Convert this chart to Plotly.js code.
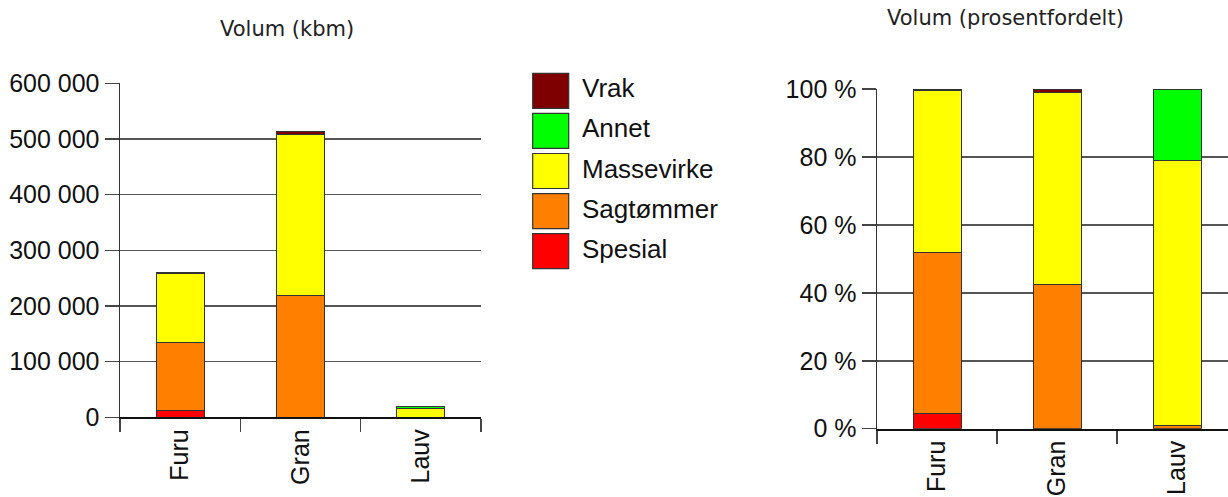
<!DOCTYPE html>
<html>
<head>
<meta charset="utf-8">
<script src="https://cdn.plot.ly/plotly-3.0.1.min.js"></script>
<style>
html,body{margin:0;padding:0;overflow:hidden;background:#fff;}
#chart{width:1228px;height:497px;}
</style>
</head>
<body>
<div id="chart"></div>
<script>
// ---- data ----
var categories = ['Furu', 'Gran', 'Lauv'];
var spesial    = [11700, 0, 0];
var sagtommer  = [123200, 218000, 200];
var massevirke = [123800, 290300, 14800];
var annet      = [0, 0, 4000];
var vrak       = [1300, 5800, 0];

var seriesNames  = ['Spesial', 'Sagtømmer', 'Massevirke', 'Annet', 'Vrak'];
var seriesValues = [spesial, sagtommer, massevirke, annet, vrak];
var seriesColors = ['#ff0000', '#ff8000', '#ffff00', '#00ff00', '#7f0000'];

var leftTitle  = 'Volum (kbm)';
var rightTitle = 'Volum (prosentfordelt)';

// ---- build ----
(function(){
var W = 1228, H = 497;
function px(x){ return x / W; }
function py(y){ return 1 - y / H; }

var totals = categories.map(function(_, i){
  return seriesValues.reduce(function(s, arr){ return s + arr[i]; }, 0);
});

var traces = [];
seriesNames.forEach(function(name, k){
  var vals = seriesValues[k];
  traces.push({
    type: 'bar', x: categories, y: vals, name: name,
    xaxis: 'x', yaxis: 'y', width: 0.4,
    marker: {color: seriesColors[k], line: {color: '#333', width: 1}},
    showlegend: false, hoverinfo: 'x+y+name'
  });
  traces.push({
    type: 'bar', x: categories,
    y: vals.map(function(v, i){ return totals[i] ? v / totals[i] * 100 : 0; }),
    name: name, xaxis: 'x2', yaxis: 'y2', width: 0.4,
    marker: {color: seriesColors[k], line: {color: '#333', width: 1}},
    showlegend: false, hoverinfo: 'x+y+name'
  });
});

var tickFont = {family: 'Liberation Sans, Arial, sans-serif', size: 25, color: '#111'};

var shapes = [], annotations = [];
// legend (top to bottom: reverse stacking order)
for (var j = seriesNames.length - 1, r = 0; j >= 0; j--, r++) {
  var yTop = 73.3 + 40.1 * r;
  shapes.push({type: 'rect', xref: 'paper', yref: 'paper',
    x0: px(532.7), x1: px(568.7), y0: py(yTop + 35), y1: py(yTop),
    fillcolor: seriesColors[j], line: {color: '#333', width: 1.2}});
  annotations.push({xref: 'paper', yref: 'paper', x: px(580), y: py(yTop + 15),
    xanchor: 'left', yanchor: 'middle', showarrow: false, text: seriesNames[j],
    font: {family: 'Liberation Sans, Arial, sans-serif', size: 26, color: '#111'}});
}
annotations.push({xref: 'paper', yref: 'paper', x: px(287), y: py(29),
  xanchor: 'center', yanchor: 'middle', showarrow: false, text: leftTitle,
  font: {family: 'DejaVu Sans, Verdana, sans-serif', size: 21, color: '#222'}});
annotations.push({xref: 'paper', yref: 'paper', x: px(1005), y: py(18),
  xanchor: 'center', yanchor: 'middle', showarrow: false, text: rightTitle,
  font: {family: 'DejaVu Sans, Verdana, sans-serif', size: 21, color: '#222'}});

var layout = {
  width: W, height: H,
  margin: {l: 0, r: 0, t: 0, b: 0, pad: 0},
  paper_bgcolor: '#fff', plot_bgcolor: '#fff',
  barmode: 'stack',
  separators: ', ',
  showlegend: false,
  xaxis: {
    domain: [px(120), px(481)], range: [-0.5, 2.5], type: 'category',
    tickson: 'boundaries', ticks: 'outside', ticklen: 13, tickwidth: 1.5, tickcolor: '#444',
    tickangle: -90, tickfont: tickFont, showgrid: false, zeroline: false,
    showline: true, linecolor: '#111', linewidth: 2, anchor: 'y', fixedrange: true
  },
  yaxis: {
    domain: [1 - 417.3 / H, 1 - 83.3 / H], range: [0, 600000], dtick: 100000,
    tickformat: ',d', ticks: 'outside', ticklen: 14, tickwidth: 1.5, tickcolor: '#444',
    tickfont: tickFont, showgrid: true, gridcolor: '#555', gridwidth: 1.5,
    zeroline: false, showline: true, linecolor: '#333', linewidth: 1.5, anchor: 'x', fixedrange: true
  },
  xaxis2: {
    domain: [px(877), 1], range: [-0.5, 2.423], type: 'category',
    tickson: 'boundaries', ticks: 'outside', ticklen: 13, tickwidth: 1.5, tickcolor: '#444',
    tickangle: -90, tickfont: tickFont, showgrid: false, zeroline: false,
    showline: true, linecolor: '#111', linewidth: 2, anchor: 'y2', fixedrange: true
  },
  yaxis2: {
    domain: [1 - 428.7 / H, 1 - 89 / H], range: [0, 100], dtick: 20,
    ticksuffix: ' %', ticks: 'outside', ticklen: 14, tickwidth: 1.5, tickcolor: '#444',
    tickfont: tickFont, showgrid: true, gridcolor: '#555', gridwidth: 1.5,
    zeroline: false, showline: true, linecolor: '#333', linewidth: 1.5, anchor: 'x2', fixedrange: true
  },
  shapes: shapes,
  annotations: annotations
};

Plotly.newPlot('chart', traces, layout, {displayModeBar: false, staticPlot: true});
})();
</script>
</body>
</html>
